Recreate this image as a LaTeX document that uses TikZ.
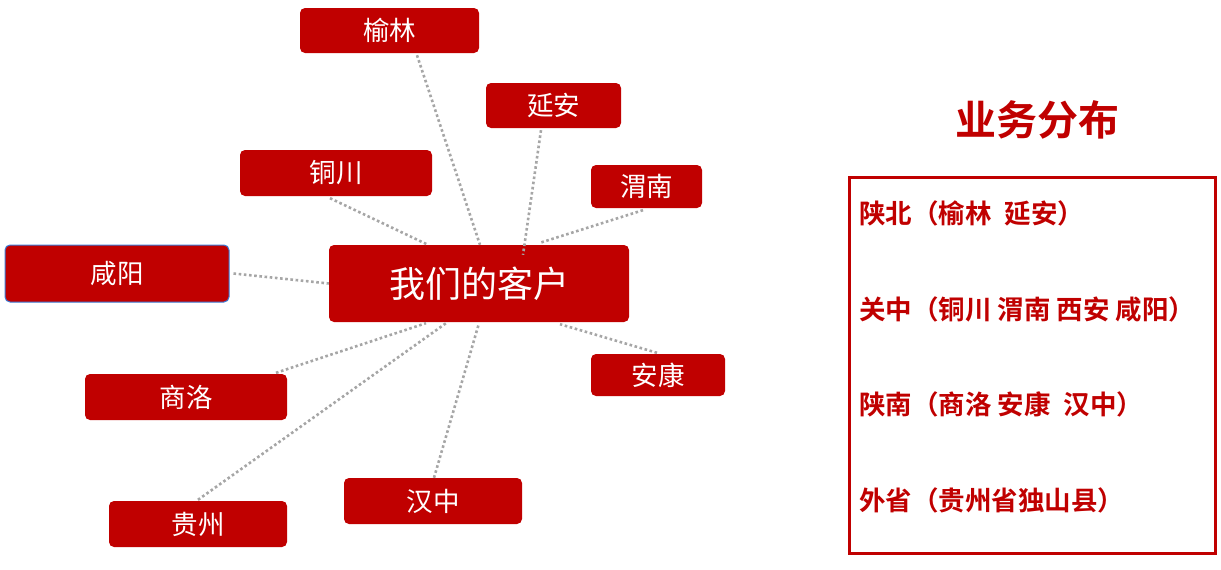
\documentclass[tikz,border=0pt]{standalone}
\usepackage{fontspec}
\setmainfont{Noto Sans CJK SC}[BoldFont={Noto Sans CJK SC Bold}]
\definecolor{cred}{HTML}{C00000}
\definecolor{lgray}{HTML}{A6A6A6}
\definecolor{bblue}{HTML}{3B7DD8}
\begin{document}
\begin{tikzpicture}[x=1pt,y=-1pt,
  box/.style={fill=cred, rounded corners=5pt, text=white, inner sep=0pt, font=\fontsize{26.5}{30}\selectfont},
  link/.style={draw=lgray, line width=2.6pt, dash pattern=on 2.6pt off 2.6pt},
  info/.style={anchor=west, text=cred, inner sep=0pt, font=\fontsize{26.5}{30}\selectfont\bfseries}]
\useasboundingbox (0,0) rectangle (1221,570);
% nodes
\node[box, minimum width=300pt, minimum height=77pt, font=\fontsize{36}{42}\selectfont] (c) at (479,283.5) {我们的客户};
\node[box, minimum width=179pt, minimum height=45pt] (yl) at (389.5,30.5) {榆林};
\node[box, minimum width=135pt, minimum height=45pt] (ya) at (553.5,105.5) {延安};
\node[box, minimum width=192pt, minimum height=46pt] (tc) at (336,173) {铜川};
\node[box, minimum width=111pt, minimum height=43pt] (wn) at (646.5,186.5) {渭南};
\node[box, draw=bblue, line width=1pt, minimum width=224pt, minimum height=57pt] (xy) at (117,273.5) {咸阳};
\node[box, minimum width=134pt, minimum height=42pt] (ak) at (658,375) {安康};
\node[box, minimum width=202pt, minimum height=46pt] (sl) at (186,397) {商洛};
\node[box, minimum width=178pt, minimum height=46pt] (hz) at (433,501) {汉中};
\node[box, minimum width=178pt, minimum height=46pt] (gz) at (198,524) {贵州};
% connectors
\draw[link] ([shift={(27.5,2)}]yl.south) -- ([shift={(1,0)}]c.north);
\draw[link] ([shift={(-12.5,2)}]ya.south) -- ([shift={(44,10)}]c.north);
\draw[link] ([shift={(-6,2)}]tc.south) -- ([shift={(-51,0)}]c.north);
\draw[link] ([shift={(-3.5,2)}]wn.south) -- ([shift={(61,-2)}]c.north);
\draw[link] ([shift={(4,0)}]xy.east) -- ([shift={(0,0)}]c.west);
\draw[link] ([shift={(-1,-1)}]ak.north) -- ([shift={(81,2)}]c.south);
\draw[link] ([shift={(90,-1)}]sl.north) -- ([shift={(-53,1)}]c.south);
\draw[link] ([shift={(0,-1)}]gz.north) -- ([shift={(-33,1)}]c.south);
\draw[link] ([shift={(1,0)}]hz.north) -- ([shift={(0,1)}]c.south);
% right panel
\node[text=cred, inner sep=0pt, font=\fontsize{41}{48}\selectfont\bfseries] (title) at (1037,120) {业务分布};
\node[draw=cred, line width=3pt, minimum width=366pt, minimum height=376pt, inner sep=0pt] (frame) at (1032,365) {};
\node[info] (r1) at (859,213) {陕北（榆林\hspace{0.5em}延安）};
\node[info] (r2) at (859,309) {关中（铜川 渭南 西安 咸阳）};
\node[info] (r3) at (859,404) {陕南（商洛 安康\hspace{0.5em}汉中）};
\node[info] (r4) at (859,500) {外省（贵州省独山县）};
\end{tikzpicture}
\end{document}
